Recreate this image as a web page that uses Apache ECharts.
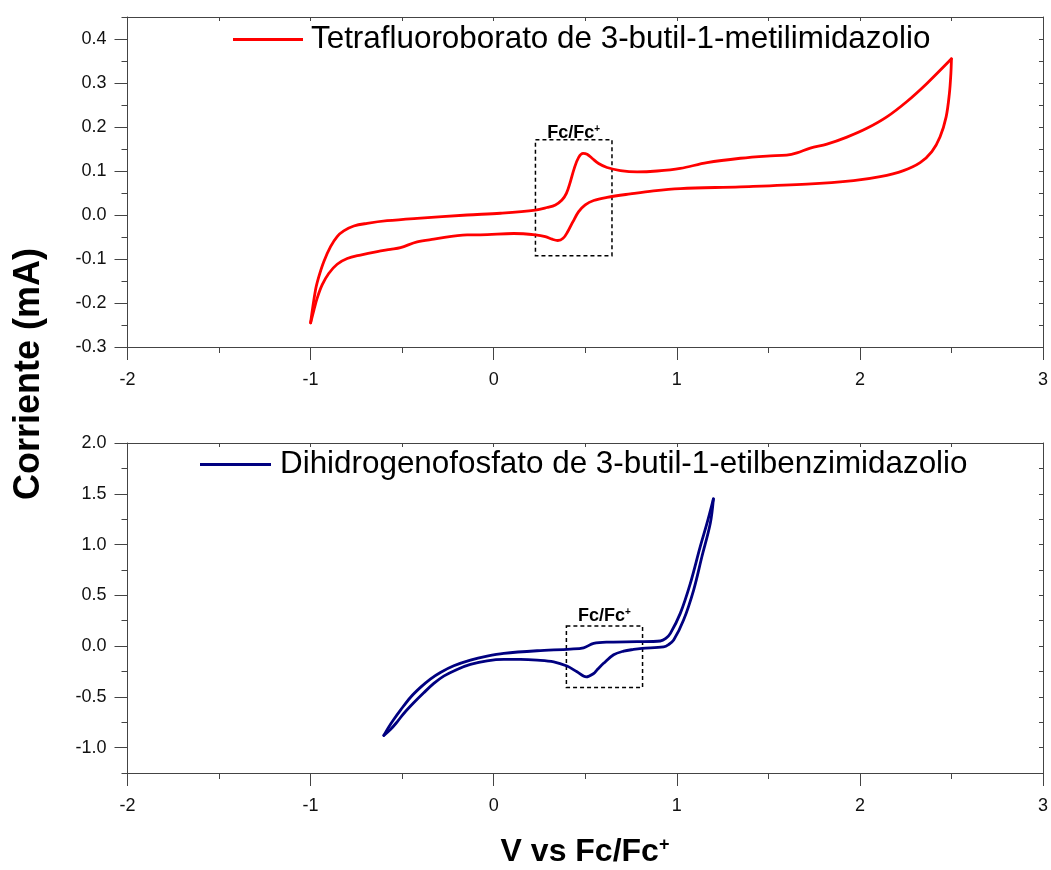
<!DOCTYPE html>
<html>
<head>
<meta charset="utf-8">
<script src="https://cdn.jsdelivr.net/npm/echarts@6/dist/echarts.min.js"></script>
<style>
  html, body { margin: 0; padding: 0; background: #fff; }
  #chart { width: 1051px; height: 870px; }
</style>
</head>
<body>
<div id="chart"></div>
<script>
// Cyclic voltammograms of two ionic liquids (ferrocene internal reference)
const bmimName = 'Tetrafluoroborato de 3-butil-1-metilimidazolio';
const bebimName = 'Dihidrogenofosfato de 3-butil-1-etilbenzimidazolio';

// [BMIM][BF4]: anodic sweep, -1.0 V -> 2.5 V (upper trace)
const bmimFwdV = [-1.0, -0.973, -0.955, -0.928, -0.891, -0.855, -0.819, -0.764, -0.691, -0.582, -0.418, -0.145, 0.037, 0.228, 0.291, 0.337, 0.373, 0.397, 0.419, 0.44, 0.464, 0.488, 0.51, 0.537, 0.573, 0.619, 0.692, 0.783, 0.892, 1.019, 1.165, 1.347, 1.492, 1.60, 1.656, 1.729, 1.82, 1.929, 2.038, 2.147, 2.257, 2.366, 2.5];
const bmimFwdI = [-0.245, -0.170, -0.140, -0.106, -0.072, -0.049, -0.036, -0.025, -0.019, -0.013, -0.0075, 0.0, 0.004, 0.011, 0.017, 0.023, 0.034, 0.049, 0.076, 0.106, 0.131, 0.140, 0.138, 0.129, 0.117, 0.108, 0.101, 0.098, 0.100, 0.106, 0.119, 0.129, 0.134, 0.136, 0.141, 0.152, 0.161, 0.177, 0.197, 0.223, 0.258, 0.299, 0.355];
// [BMIM][BF4]: cathodic return sweep, 2.5 V -> -1.0 V (lower trace)
const bmimRevV = [2.5, 2.497, 2.489, 2.471, 2.438, 2.393, 2.329, 2.238, 2.111, 1.965, 1.711, 1.347, 1.019, 0.873, 0.746, 0.619, 0.546, 0.50, 0.464, 0.433, 0.404, 0.379, 0.35, 0.319, 0.282, 0.228, 0.109, -0.073, -0.145, -0.327, -0.418, -0.509, -0.564, -0.636, -0.728, -0.80, -0.855, -0.901, -0.937, -0.964, -0.982, -1.0];
const bmimRevI = [0.355, 0.322, 0.277, 0.223, 0.178, 0.144, 0.119, 0.101, 0.087, 0.078, 0.070, 0.064, 0.060, 0.055, 0.048, 0.040, 0.033, 0.023, 0.0075, -0.015, -0.038, -0.053, -0.058, -0.055, -0.049, -0.045, -0.042, -0.045, -0.045, -0.055, -0.061, -0.074, -0.078, -0.083, -0.091, -0.099, -0.112, -0.133, -0.159, -0.189, -0.216, -0.245];

// [BEBIM][H2PO4]: anodic sweep, -0.6 V -> 1.2 V
const bebimFwdV = [-0.6, -0.573, -0.546, -0.509, -0.455, -0.40, -0.346, -0.291, -0.218, -0.127, -0.036, 0.055, 0.237, 0.419, 0.491, 0.546, 0.637, 0.783, 0.91, 0.94, 0.965, 1.019, 1.074, 1.128, 1.165, 1.2];
const bebimFwdI = [-0.88, -0.796, -0.723, -0.631, -0.506, -0.407, -0.325, -0.26, -0.194, -0.138, -0.099, -0.072, -0.046, -0.030, -0.017, 0.027, 0.039, 0.043, 0.05, 0.075, 0.125, 0.322, 0.618, 0.979, 1.21, 1.45];
// [BEBIM][H2PO4]: cathodic return sweep, 1.2 V -> -0.6 V
const bebimRevV = [1.2, 1.183, 1.137, 1.092, 1.037, 0.983, 0.955, 0.928, 0.81, 0.764, 0.71, 0.655, 0.60, 0.564, 0.546, 0.506, 0.455, 0.40, 0.328, 0.237, 0.146, 0.055, -0.036, -0.127, -0.20, -0.273, -0.327, -0.382, -0.437, -0.491, -0.527, -0.564, -0.6];
const bebimRevI = [1.45, 1.21, 0.88, 0.552, 0.256, 0.059, 0.015, -0.007, -0.023, -0.033, -0.05, -0.085, -0.17, -0.235, -0.27, -0.303, -0.253, -0.197, -0.155, -0.138, -0.131, -0.131, -0.145, -0.181, -0.230, -0.296, -0.368, -0.460, -0.559, -0.664, -0.746, -0.822, -0.88];

// Tick labels
const xTickValues = [-2, -1, 0, 1, 2, 3];
const topYTickValues = [-0.3, -0.2, -0.1, 0.0, 0.1, 0.2, 0.3, 0.4];
const bottomYTickValues = [-1.0, -0.5, 0.0, 0.5, 1.0, 1.5, 2.0];

// Fc/Fc+ reference windows: [V, I] corners
const topFcBox = [[0.228, 0.171], [0.646, -0.0925]];
const bottomFcBox = [[0.397, 0.197], [0.813, -0.407]];

const FONT = '"Liberation Sans", Arial, Helvetica, sans-serif';
const AXIS_COLOR = '#444';
const LABEL_COLOR = '#111';

const zip = (a, b) => a.map((v, i) => [v, b[i]]);

function frameLine() {
  return { show: true, onZero: false, lineStyle: { color: AXIS_COLOR, width: 1 } };
}

function bottomXAxis(gridIndex) {
  return {
    type: 'value', gridIndex, position: 'bottom',
    min: -2, max: 3, interval: 1,
    axisLine: frameLine(),
    axisTick: { show: true, inside: false, length: 13, customValues: xTickValues, lineStyle: { color: AXIS_COLOR } },
    minorTick: { show: true, splitNumber: 2, length: 6, lineStyle: { color: AXIS_COLOR } },
    axisLabel: { show: true, customValues: xTickValues, margin: 24, fontSize: 18, color: LABEL_COLOR, fontFamily: FONT, formatter: v => String(v) },
    splitLine: { show: false }, minorSplitLine: { show: false }
  };
}
function topXAxis(gridIndex) {
  return {
    type: 'value', gridIndex, position: 'top',
    min: -2, max: 3, interval: 0.5,
    axisLine: frameLine(),
    axisTick: { show: true, inside: true, length: 4, lineStyle: { color: AXIS_COLOR } },
    axisLabel: { show: false },
    splitLine: { show: false }
  };
}
function leftYAxes(gridIndex, min, max, minorStep, majors) {
  return [
    { // minor ticks and axis line
      type: 'value', gridIndex, position: 'left',
      min, max, interval: minorStep,
      axisLine: frameLine(),
      axisTick: { show: true, inside: false, length: 6, lineStyle: { color: AXIS_COLOR } },
      axisLabel: { show: false },
      splitLine: { show: false }
    },
    { // major ticks with labels
      type: 'value', gridIndex, position: 'left',
      min, max, interval: minorStep,
      axisLine: { show: false, onZero: false },
      axisTick: { show: true, inside: false, length: 13, customValues: majors, lineStyle: { color: AXIS_COLOR } },
      axisLabel: { show: true, customValues: majors, margin: 21, fontSize: 18, color: LABEL_COLOR, fontFamily: FONT, formatter: v => v.toFixed(1) },
      splitLine: { show: false }
    },
    { // mirrored right frame
      type: 'value', gridIndex, position: 'right',
      min, max, interval: minorStep,
      axisLine: frameLine(),
      axisTick: { show: true, inside: true, length: 4, lineStyle: { color: AXIS_COLOR } },
      axisLabel: { show: false },
      splitLine: { show: false }
    }
  ];
}

function fcLabel(distance) {
  return {
    show: true, position: 'top', distance,
    formatter: '{a|Fc/Fc}{s|+}',
    rich: {
      a: { fontFamily: FONT, fontWeight: 'bold', fontSize: 18, color: '#000' },
      s: { fontFamily: FONT, fontWeight: 'bold', fontSize: 10, color: '#000', verticalAlign: 'top', padding: [0, 0, 8, 0] }
    }
  };
}
function fcArea(box, distance) {
  return {
    silent: true,
    itemStyle: { color: 'rgba(0,0,0,0)', borderColor: '#000', borderWidth: 1.5, borderType: [4, 3] },
    label: fcLabel(distance),
    data: [[{ xAxis: box[0][0], yAxis: box[0][1] }, { xAxis: box[1][0], yAxis: box[1][1] }]]
  };
}

function trace(name, xAxisIndex, yAxisIndex, v, i, color, extra) {
  return Object.assign({
    name, type: 'line', xAxisIndex, yAxisIndex,
    data: zip(v, i), smooth: 0.35, symbol: 'none', showSymbol: false,
    lineStyle: { color, width: 2.8, cap: 'round', join: 'round' }, itemStyle: { color },
    clip: false, animation: false
  }, extra || {});
}

const RED = '#ff0000';
const NAVY = '#000080';

const legendText = { fontFamily: FONT, fontSize: 31.4, color: '#000' };

const option = {
  backgroundColor: '#fff',
  animation: false,
  grid: [
    { left: 127.5, right: 8, top: 17, height: 330 },
    { left: 127.5, right: 8, top: 443, height: 330 }
  ],
  xAxis: [bottomXAxis(0), topXAxis(0), bottomXAxis(1), topXAxis(1)],
  yAxis: [
    ...leftYAxes(0, -0.3, 0.45, 0.05, topYTickValues),
    ...leftYAxes(1, -1.25, 2.0, 0.25, bottomYTickValues)
  ],
  legend: [
    {
      data: [bmimName], left: 233, top: 24, padding: 0,
      icon: 'rect', itemWidth: 70, itemHeight: 3, selectedMode: false,
      textStyle: Object.assign({ padding: [0, 0, 0, 3] }, legendText)
    },
    {
      data: [bebimName], left: 200, top: 449, padding: 0,
      icon: 'rect', itemWidth: 71, itemHeight: 3, selectedMode: false,
      textStyle: Object.assign({ padding: [0, 0, 0, 4] }, legendText)
    }
  ],
  series: [
    trace(bmimName, 0, 0, bmimFwdV, bmimFwdI, RED, { markArea: fcArea(topFcBox, -3) }),
    trace(bmimName, 0, 0, bmimRevV, bmimRevI, RED),
    trace(bebimName, 2, 3, bebimFwdV, bebimFwdI, NAVY, { markArea: fcArea(bottomFcBox, 0) }),
    trace(bebimName, 2, 3, bebimRevV, bebimRevI, NAVY)
  ],
  graphic: [
    {
      type: 'text', x: 29, y: 374, rotation: Math.PI / 2,
      style: {
        text: 'Corriente (mA)', fill: '#000',
        font: 'bold 36px ' + FONT,
        align: 'center', verticalAlign: 'middle'
      }
    },
    {
      type: 'text', x: 585, y: 852,
      style: {
        text: '{a|V vs Fc/Fc}{s|+}',
        align: 'center', verticalAlign: 'middle',
        rich: {
          a: { fontFamily: FONT, fontWeight: 'bold', fontSize: 32, fill: '#000' },
          s: { fontFamily: FONT, fontWeight: 'bold', fontSize: 18, fill: '#000', verticalAlign: 'top', padding: [0, 0, 14, 0] }
        }
      }
    }
  ]
};

const chart = echarts.init(document.getElementById('chart'), null, { renderer: 'canvas' });
chart.setOption(option);
</script>
</body>
</html>
